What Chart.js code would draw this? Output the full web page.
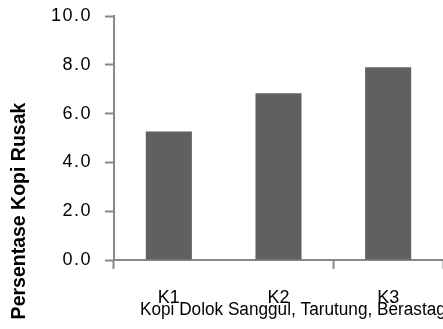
<!DOCTYPE html>
<html>
<head>
<meta charset="utf-8">
<script src="https://cdn.jsdelivr.net/npm/chart.js@4/dist/chart.umd.min.js"></script>
<style>
  html, body { margin: 0; padding: 0; background: #fff; }
  #wrap { width: 443px; height: 329px; position: relative; }
</style>
</head>
<body>
<div id="wrap"><canvas id="c" width="443" height="329"></canvas></div>
<script>
const categories = ['K1', 'K2', 'K3'];
const values = [5.27, 6.83, 7.9];
const yTicks = [0, 2, 4, 6, 8, 10];
const xTitle = 'Kopi Dolok Sanggul, Tarutung, Berastagi';
const yTitle = 'Persentase Kopi Rusak';

const FONT = '"Liberation Sans", Arial, sans-serif';

const axisTitles = {
  id: 'axisTitles',
  afterDatasetsDraw(chart) {
    chart.ctx.letterSpacing = '1.5px';
  },
  afterDraw(chart) {
    const ctx = chart.ctx;
    ctx.letterSpacing = '0px';
    const a = chart.chartArea;
    ctx.save();
    ctx.fillStyle = '#000';
    ctx.font = '18px ' + FONT;
    ctx.textAlign = 'left';
    ctx.textBaseline = 'alphabetic';
    ctx.translate(a.left + 26, chart.height - 14);
    ctx.scale(0.955, 1);
    ctx.fillText(xTitle, 0, 0);
    ctx.restore();
    ctx.save();
    ctx.fillStyle = '#000';
    ctx.translate(20, a.bottom - 49);
    ctx.rotate(-Math.PI / 2);
    ctx.font = 'bold 19.5px ' + FONT;
    ctx.textAlign = 'center';
    ctx.textBaseline = 'middle';
    ctx.fillText(yTitle, 0, 0);
    ctx.restore();
  }
};

new Chart(document.getElementById('c'), {
  type: 'bar',
  data: {
    labels: categories,
    datasets: [{
      data: values,
      backgroundColor: '#606060',
      borderWidth: 0,
      categoryPercentage: 1,
      barPercentage: 0.42
    }]
  },
  options: {
    responsive: false,
    animation: false,
    layout: { padding: { top: 16, right: 0, left: 0, bottom: 0 } },
    plugins: { legend: { display: false }, tooltip: { enabled: false } },
    scales: {
      x: {
        afterFit(s) { s.height = 69; s.paddingLeft = 0; s.paddingRight = 0; },
        border: { color: '#888888', width: 2 },
        grid: {
          offset: true,
          drawOnChartArea: false,
          tickLength: 9,
          tickWidth: 2,
          tickColor: (c) => (c.index === 1 ? 'rgba(0,0,0,0)' : '#888888')
        },
        ticks: {
          color: '#000',
          padding: 18,
          font: { size: 18, family: FONT }
        }
      },
      y: {
        min: 0,
        max: 10,
        afterFit(s) { s.width = 114; s.paddingTop = 0; s.paddingBottom = 0; },
        afterBuildTicks(s) { s.ticks = yTicks.map(v => ({ value: v })); },
        border: { color: '#888888', width: 2 },
        grid: {
          drawOnChartArea: false,
          tickLength: 9,
          tickWidth: 2,
          tickColor: '#888888'
        },
        ticks: {
          z: 1,
          color: '#000',
          padding: 13,
          font: { size: 18, family: FONT },
          callback: (v) => Number(v).toFixed(1)
        }
      }
    }
  },
  plugins: [axisTitles]
});
</script>
</body>
</html>
